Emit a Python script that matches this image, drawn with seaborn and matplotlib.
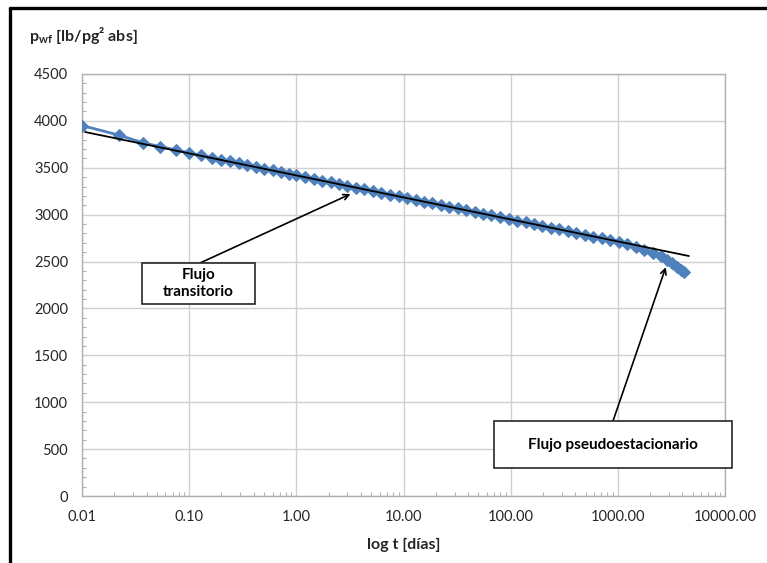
import numpy as np
import pandas as pd
import matplotlib
matplotlib.use("Agg")
import matplotlib.pyplot as plt
import seaborn as sns
from matplotlib.lines import Line2D
from matplotlib.patches import Rectangle
from matplotlib.ticker import FuncFormatter, LogLocator, MultipleLocator

# ==============================
# DATA
# ==============================

t_dias = [0.01, 0.022, 0.037, 0.054, 0.075, 0.1, 0.13, 0.165, 0.2, 0.24,
          0.29, 0.35, 0.42, 0.5, 0.6, 0.72, 0.86, 1.0, 1.2, 1.45,
          1.75, 2.1, 2.5, 3.0, 3.6, 4.3, 5.2, 6.2, 7.5, 9.0,
          10.8, 13, 15.5, 18.6, 22.3, 26.8, 32, 38.5, 46, 55,
          66, 80, 96, 115, 138, 165, 198, 238, 285, 342,
          410, 492, 590, 710, 850, 1020, 1225, 1470, 1760, 2110,
          2530, 2870, 3190, 3550, 3870, 4130]
pwf = [3950, 3849, 3767, 3725, 3690, 3660, 3632, 3607, 3587, 3568,
       3548, 3529, 3510, 3492, 3473, 3454, 3436, 3420, 3401, 3382,
       3363, 3344, 3326, 3307, 3289, 3271, 3251, 3233, 3214, 3195,
       3177, 3158, 3140, 3121, 3103, 3084, 3066, 3047, 3029, 3011,
       2992, 2972, 2954, 2935, 2917, 2899, 2880, 2861, 2842, 2823,
       2804, 2785, 2766, 2746, 2726, 2705, 2682, 2656, 2627, 2594,
       2555, 2517, 2480, 2445, 2415, 2389]

# straight line fitted to the transient part
t_ajuste = [0.0107, 4600]
p_ajuste = [3881, 2559]

x_ticks = [0.01, 0.1, 1, 10, 100, 1000, 10000]
y_ticks = [0, 500, 1000, 1500, 2000, 2500, 3000, 3500, 4000, 4500]

# ==============================
# STYLE
# ==============================

sns.set_style("white")
plt.rcParams["font.family"] = ["Lato", "DejaVu Sans"]
plt.rcParams["mathtext.fontset"] = "custom"
plt.rcParams["mathtext.rm"] = "Lato"
plt.rcParams["mathtext.bf"] = "Lato:bold"

AZUL = "#4F81BD"
GRIS = "#B0B0B0"

df = pd.DataFrame({"t": t_dias, "p": pwf})

fig = plt.figure(figsize=(7.67, 5.63), dpi=100)
ax = fig.add_axes([0.1069, 0.119, 0.9453 - 0.1069, 0.8686 - 0.119])

sns.lineplot(data=df, x="t", y="p", ax=ax, color=AZUL, lw=2.0,
             marker="D", markersize=6, markeredgecolor=AZUL,
             sort=False, estimator=None, zorder=3)
ax.plot(t_ajuste, p_ajuste, color="black", lw=1.3, zorder=4)

ax.set_xscale("log")
ax.set_xlim(0.01, 10000)
ax.set_ylim(0, 4500)
ax.set_xticks(x_ticks)
ax.xaxis.set_major_formatter(FuncFormatter(lambda v, _: f"{v:.2f}"))
ax.xaxis.set_minor_locator(LogLocator(base=10, subs=np.arange(2, 10)))
ax.xaxis.set_minor_formatter(FuncFormatter(lambda v, _: ""))
ax.set_yticks(y_ticks)
ax.yaxis.set_minor_locator(MultipleLocator(100))

ax.grid(True, which="major", color="#D0D0D0", lw=1.0)
ax.tick_params(which="major", length=0, pad=10, labelsize=10.5, colors="#262626")
ax.tick_params(which="minor", direction="in", length=3, width=0.8, color=GRIS)
ax.tick_params(axis="x", which="minor", bottom=True)
ax.tick_params(axis="y", which="minor", left=True)
for s in ax.spines.values():
    s.set_color(GRIS)
    s.set_linewidth(1.0)

ax.set_xlabel("log t [días]", fontsize=11.5, fontweight="bold", color="#262626")
ax.xaxis.set_label_coords(0.5, -0.1)
ax.set_ylabel("")

fig.text(0.038, 0.937, r"$\mathbf{p_{wf}}$ [lb/pg² abs]",
         fontsize=11.5, fontweight="bold", color="#262626", va="center", ha="left")

# ==============================
# ANNOTATIONS
# ==============================

W, H = 767, 563

def caja(x0, y0, x1, y1, texto):
    rect = Rectangle((x0 / W, 1 - y1 / H), (x1 - x0) / W, (y1 - y0) / H,
                     transform=fig.transFigure, facecolor="white",
                     edgecolor="#262626", lw=1.2, zorder=5)
    fig.add_artist(rect)
    fig.text((x0 + x1) / 2 / W, 1 - (y0 + y1) / 2 / H, texto, ha="center",
             va="center", fontsize=11, fontweight="bold", color="black",
             linespacing=1.3, zorder=6)

caja(142, 263, 255, 304, "Flujo\ntransitorio")
caja(494, 421, 732, 468, "Flujo pseudoestacionario")

ax.annotate("", xy=(3.2, 3220), xycoords="data",
            xytext=(200 / W, 1 - 263 / H), textcoords="figure fraction",
            arrowprops=dict(arrowstyle="->", color="black", lw=1.2,
                            shrinkA=0, shrinkB=0), zorder=6)
ax.annotate("", xy=(2800, 2440), xycoords="data",
            xytext=(613 / W, 1 - 421 / H), textcoords="figure fraction",
            arrowprops=dict(arrowstyle="->", color="black", lw=1.2,
                            shrinkA=0, shrinkB=0), zorder=6)

# frame of the original picture (top and left edges only)
fig.add_artist(Line2D([10 / W, 1], [1 - 8 / H, 1 - 8 / H], color="black",
                      lw=2.4, transform=fig.transFigure))
fig.add_artist(Line2D([10 / W, 10 / W], [0, 1 - 8 / H], color="black",
                      lw=2.4, transform=fig.transFigure))

fig.savefig("out.png", dpi=100)
